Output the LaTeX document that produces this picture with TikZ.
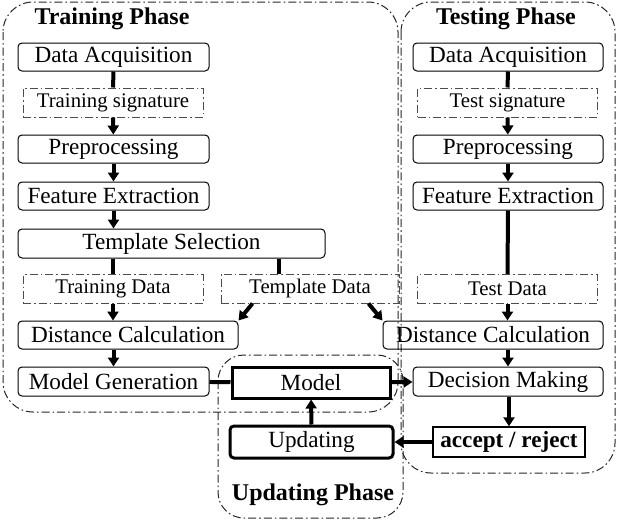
\documentclass[tikz,border=0pt]{standalone}
\usepackage{fontspec}
\setmainfont{Liberation Serif}
\usetikzlibrary{arrows.meta}

\begin{document}
\begin{tikzpicture}[
        x=0.5pt, y=-0.5pt,
        link/.style={line width=2pt},
        arr/.style={line width=2pt, -{Triangle[length=4.5pt,width=5.5pt]}}
    ]

    \tikzstyle{every node}=[align=center, inner sep=0pt, font=\fontsize{11.6}{13}\selectfont]
    \tikzstyle{stage}=[draw, rounded corners=2pt, line width=0.5pt, minimum height=14pt, minimum width=95.5pt]
    \tikzstyle{data}=[draw=black!70, dash pattern=on 4pt off 1.5pt on 0.8pt off 1.5pt, line width=0.5pt, minimum height=14.5pt, minimum width=90pt, font=\fontsize{10.4}{12}\selectfont]
    \tikzstyle{phase}=[draw=black!85, dash pattern=on 4pt off 1.5pt on 0.8pt off 1.5pt, rounded corners=15pt, line width=0.5pt]
    \tikzstyle{title}=[font=\fontsize{12}{14}\selectfont\bfseries]
    \tikzstyle{heavy}=[draw, line width=1.5pt, minimum width=79pt, minimum height=15.5pt]

    \useasboundingbox (0,0) rectangle (617,525);

    % phases
    \draw[phase] (3,2) rectangle (398,412);
    \draw[phase] (401,2) rectangle (615,473);
    \draw[phase, rounded corners=13pt] (218,355) rectangle (403,518);

    \node[title] (trainT) at (112,19) {Training Phase};
    \node[title] (testT) at (506,19) {Testing Phase};
    \node[title] (updT) at (313,495) {Updating Phase};

    % training
    \node[stage] (tDA) at (113.5,57) {Data Acquisition};
    \node[data] (tSig) at (113,102.5) {Training signature};
    \node[stage] (tPre) at (113.5,149) {Preprocessing};
    \node[stage] (tFE) at (113.5,196) {Feature Extraction};
    \node[stage, minimum width=153.5pt, minimum height=14.5pt] (tTS) at (171.5,243.5) {Template Selection};
    \node[data] (tTrD) at (113,289) {Training Data};
    \node[data, minimum width=89pt] (tTmD) at (310,288.5) {Template Data};
    \node[stage, minimum width=110pt] (tDC) at (128,335) {Distance Calculation};
    \node[stage, minimum height=14.5pt] (tMG) at (113.5,381.5) {Model Generation};

    % updating
    \node[heavy] (uM) at (311,382.5) {Model};
    \node[heavy, rounded corners=2pt, minimum width=81.5pt, minimum height=16pt] (uUp) at (311.5,442) {Updating};

    % testing
    \node[stage, minimum width=95pt] (sDA) at (508,57) {Data Acquisition};
    \node[data] (sSig) at (507.5,102.5) {Test signature};
    \node[stage, minimum width=95pt] (sPre) at (508,149) {Preprocessing};
    \node[stage, minimum width=95pt] (sFE) at (508,196) {Feature Extraction};
    \node[data] (sTD) at (507.5,289) {Test Data};
    \node[stage, minimum width=110pt] (sDC) at (493,335) {Distance Calculation};
    \node[stage, minimum width=95pt, minimum height=14.5pt] (sDM) at (508,381.5) {Decision Making};
    \node[draw, line width=0.7pt, minimum width=76pt, minimum height=15pt, font=\fontsize{11.6}{13}\selectfont\bfseries] (sAR) at (509,442) {accept / reject};

    % connectors
    \draw[link] (tDA) -- (tSig);
    \draw[arr] (tSig) -- (tPre);
    \draw[arr] (tPre) -- (tFE);
    \draw[arr] (tFE.south) -- (tFE.south |- tTS.north);
    \draw[link] (tTrD.north |- tTS.south) -- (tTrD.north);
    \draw[link] ([xshift=-15.5pt]tTmD.north) -- ([xshift=-15.5pt]tTmD.north |- tTS.south);
    \draw[arr] (tTrD.south) -- (tTrD.south |- tDC.north);
    \draw[arr] ([xshift=16pt]tTmD.south west) -- (tDC.north east);
    \draw[arr] ([xshift=-15.5pt]tTmD.south east) -- (sDC.north west);
    \draw[arr] (tDC.south -| tMG.north) -- (tMG.north);
    \draw[link] (tMG) -- (uM);
    \draw[arr] (uM) -- (sDM);
    \draw[arr] (uUp) -- (uM);

    \draw[link] (sDA) -- (sSig);
    \draw[arr] (sSig) -- (sPre);
    \draw[arr] (sPre) -- (sFE);
    \draw[link] (sFE) -- (sTD);
    \draw[arr] (sTD.south) -- (sTD.south |- sDC.north);
    \draw[arr] (sDC.south -| sDM.north) -- (sDM.north);
    \draw[arr] (sDM.south -| sAR.north) -- (sAR.north);
    \draw[arr] (sAR) -- (uUp);

\end{tikzpicture}
\end{document}
